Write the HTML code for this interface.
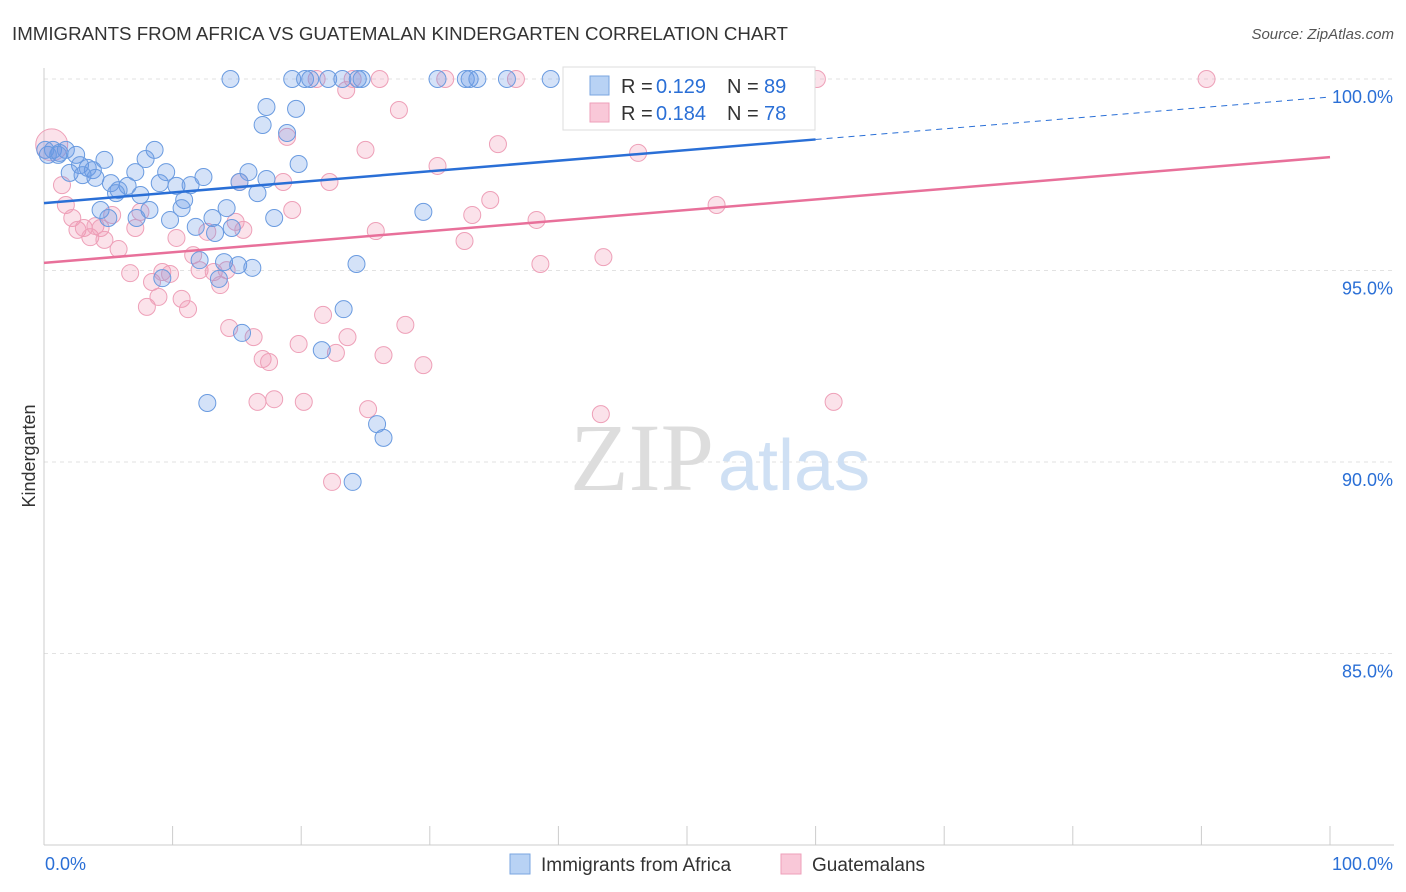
<!DOCTYPE html>
<html><head><meta charset="utf-8">
<style>
body{margin:0;background:#fff;font-family:"Liberation Sans",sans-serif;}
#wrap{position:relative;width:1406px;height:892px;overflow:hidden;}
</style></head>
<body>
<div id="wrap">
<svg id="svg" width="1406" height="892" xmlns="http://www.w3.org/2000/svg">
<text x="12" y="40" font-size="18" fill="#333" textLength="776" lengthAdjust="spacingAndGlyphs">IMMIGRANTS FROM AFRICA VS GUATEMALAN KINDERGARTEN CORRELATION CHART</text>
<text x="1394" y="39" font-size="15" fill="#555" font-style="italic" text-anchor="end">Source: ZipAtlas.com</text>
<text x="35" y="456" font-size="18" fill="#333" text-anchor="middle" transform="rotate(-90 35 456)">Kindergarten</text>
<g id="grid"></g>
<text x="714" y="490" font-size="96" fill="#ddd" font-family="Liberation Serif,serif" text-anchor="end">ZIP</text>
<text x="718" y="490" font-size="72" fill="#cfe0f4">atlas</text>
<g id="marks"></g>
<g id="lines"></g>
<g>
<rect x="563" y="67" width="252" height="63" fill="#fff" stroke="#ddd"/>
<rect x="590" y="76" width="19" height="19" fill="#b8d2f4" stroke="#7aa6e0"/>
<text x="621" y="93" font-size="20" fill="#333">R =</text>
<text x="656" y="93" font-size="20" fill="#2a6fd6">0.129</text>
<text x="727" y="93" font-size="20" fill="#333">N =</text>
<text x="764" y="93" font-size="20" fill="#2a6fd6">89</text>
<rect x="590" y="103" width="19" height="19" fill="#f9c8d8" stroke="#ee9fba"/>
<text x="621" y="120" font-size="20" fill="#333">R =</text>
<text x="656" y="120" font-size="20" fill="#2a6fd6">0.184</text>
<text x="727" y="120" font-size="20" fill="#333">N =</text>
<text x="764" y="120" font-size="20" fill="#2a6fd6">78</text>
</g>
<g>
<rect x="510" y="854" width="20" height="20" fill="#b8d2f4" stroke="#7aa6e0"/>
<text x="541" y="871" font-size="19" fill="#333">Immigrants from Africa</text>
<rect x="781" y="854" width="20" height="20" fill="#f9c8d8" stroke="#ee9fba"/>
<text x="812" y="871" font-size="19" fill="#333">Guatemalans</text>
</g>
</svg>
</div>
<script>
const yTicks=[100,95,90,85];
const yTickLabels=["100.0%","95.0%","90.0%","85.0%"];
const xTickVals=[0,10,20,30,40,50,60,70,80,90,100];
const blueX=[14.5,19.3,20.3,20.7,22.1,23.2,24.4,24.7,30.6,32.8,33.1,33.7,36.0,39.4,56.8,17.3,19.6,17.0,18.9,8.6,7.9,19.8,0.7,1.2,1.7,0.3,2.5,4.7,2.8,3.4,3.8,2.0,3.0,4.0,7.1,9.5,12.4,15.9,5.2,6.5,5.8,9.0,10.3,11.4,15.2,17.3,5.6,7.5,10.9,16.6,4.4,8.2,10.7,14.2,5.0,7.2,9.8,13.1,11.8,13.3,14.6,17.9,29.5,12.1,14.0,15.1,16.2,13.6,9.2,24.3,23.3,15.4,21.6,12.7,25.9,26.4,24.0,0.1,1.1];
const blueY=[100,100,100,100,100,100,100,100,100,100,100,100,100,100,100,99.27,99.22,98.80,98.59,98.15,97.91,97.78,98.15,98.07,98.15,98.02,98.02,97.89,97.75,97.68,97.62,97.55,97.49,97.42,97.57,97.57,97.44,97.57,97.28,97.21,97.10,97.28,97.21,97.23,97.31,97.39,97.02,96.97,96.84,97.02,96.58,96.58,96.63,96.63,96.37,96.37,96.32,96.37,96.14,95.98,96.11,96.37,96.53,95.27,95.22,95.14,95.07,94.78,94.80,95.17,93.99,93.37,92.92,91.54,90.99,90.63,89.48,98.15,98.02];
const pinkX=[0.6,1.4,1.7,2.2,2.6,3.1,3.6,4.0,4.4,4.7,5.3,5.8,6.7,7.1,7.5,8.0,8.4,8.9,9.2,9.8,10.3,10.7,11.2,11.6,12.1,12.7,13.2,13.7,14.2,14.4,14.9,15.2,15.5,16.3,16.6,17.0,17.5,17.9,18.6,18.9,19.3,19.8,20.2,21.2,21.7,22.2,22.4,22.7,23.5,23.6,24.0,25.0,25.2,25.8,26.1,26.4,27.6,28.1,29.5,30.6,31.2,32.7,33.3,34.7,35.3,36.7,38.3,38.6,43.3,43.5,46.2,52.3,58.8,60.1,61.4,90.4];
const pinkY=[98.28,97.23,96.71,96.37,96.06,96.11,95.87,96.16,96.11,95.80,96.45,95.56,94.93,96.11,96.53,94.05,94.70,94.31,94.96,94.91,95.85,94.26,93.99,95.40,95.01,96.01,94.96,94.62,95.01,93.50,96.27,97.31,96.06,93.26,91.57,92.69,92.61,91.64,97.31,98.49,96.58,93.08,91.57,100,93.84,97.31,89.48,92.85,99.71,93.26,100,98.15,91.38,96.03,100,92.79,99.19,93.58,92.53,97.73,100,95.77,96.45,96.84,98.30,100,96.32,95.17,91.25,95.35,98.07,96.71,100,100,91.57,100];
const blueTrend=[96.76,99.53];
const pinkTrend=[95.20,97.96];
const NS="http://www.w3.org/2000/svg";
const X=v=>44+v*12.86;
const Y=v=>79+(100-v)*38.3;
function mk(t,a,p){const e=document.createElementNS(NS,t);for(const k in a)e.setAttribute(k,a[k]);p.appendChild(e);return e;}
const grid=document.getElementById('grid');
yTicks.forEach((t,i)=>{
 const l=mk('line',{x1:44,x2:1394,y1:Y(t),y2:Y(t),stroke:'#e2e2e2','stroke-dasharray':'4,4'},grid);
 
 
 const tx=mk('text',{x:1393,y:Y(t)+24,'font-size':18,fill:'#2a6fd6','text-anchor':'end'},grid);
 tx.textContent=yTickLabels[i];
 
 
});
const ax=mk('line',{x1:44,x2:44,y1:68,y2:845,stroke:'#ccc'},grid);


const bx=mk('line',{x1:44,x2:1394,y1:845,y2:845,stroke:'#ccc'},grid);


xTickVals.forEach(v=>{
 const t=mk('line',{x1:X(v),x2:X(v),y1:826,y2:845,stroke:'#ccc'},grid);
 
 
});
const xl=mk('text',{x:45,y:870,'font-size':18,fill:'#2a6fd6'},grid);xl.textContent='0.0%';


const xr=mk('text',{x:1393,y:870,'font-size':18,fill:'#2a6fd6','text-anchor':'end'},grid);xr.textContent='100.0%';


const marks=document.getElementById('marks');
pinkX.forEach((v,i)=>{
 const c=mk('circle',{cx:X(v),cy:Y(pinkY[i]),r:i===0?16:8.5,fill:'rgba(240,150,180,0.28)',stroke:'#eea0b8','stroke-width':1},marks);
 
 
});
blueX.forEach((v,i)=>{
 const c=mk('circle',{cx:X(v),cy:Y(blueY[i]),r:8.5,fill:'rgba(100,150,230,0.28)',stroke:'#6a9be0','stroke-width':1},marks);
 
 
});
const lines=document.getElementById('lines');
const bAt=x=>blueTrend[0]+(blueTrend[1]-blueTrend[0])*x/100;
const l1=mk('line',{x1:X(0),y1:Y(bAt(0)),x2:X(60),y2:Y(bAt(60)),stroke:'#2a6fd6','stroke-width':2.5},lines);


const l2=mk('line',{x1:X(60),y1:Y(bAt(60)),x2:X(100),y2:Y(bAt(100)),stroke:'#2a6fd6','stroke-width':1,'stroke-dasharray':'6,5'},lines);


const l3=mk('line',{x1:X(0),y1:Y(pinkTrend[0]),x2:X(100),y2:Y(pinkTrend[1]),stroke:'#e8709a','stroke-width':2.5},lines);


</script>
</body></html>
